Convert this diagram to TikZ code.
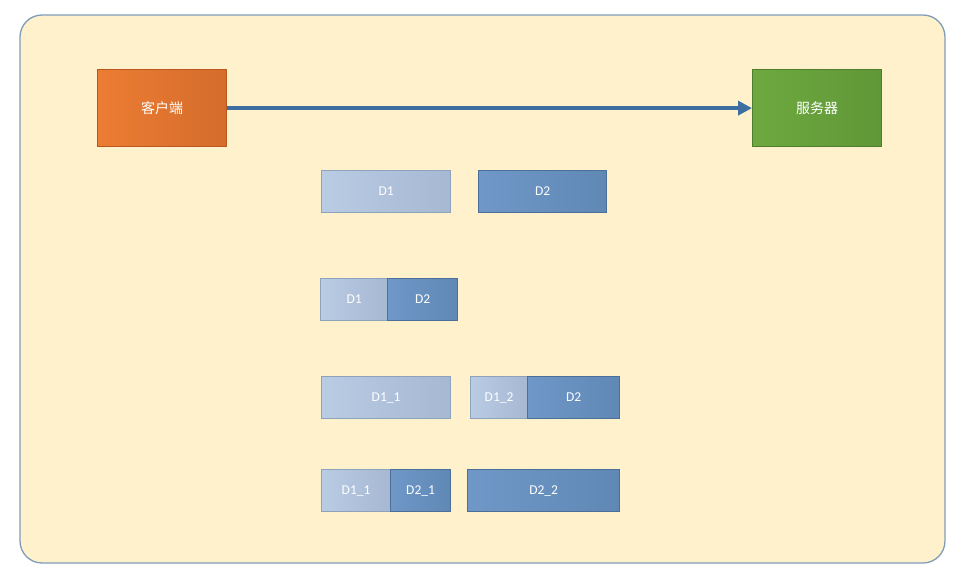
\documentclass[tikz,border=0pt]{standalone}
\usepackage{fontspec}
\setmainfont{Carlito}
\newfontfamily\cjk{Noto Sans CJK SC}
\usetikzlibrary{arrows.meta}
\definecolor{bgfill}{HTML}{FEF1CC}
\definecolor{bgline}{HTML}{7F9DB9}
\definecolor{orgA}{HTML}{EC7D33}
\definecolor{orgB}{HTML}{D56C2C}
\definecolor{orgL}{HTML}{B9581E}
\definecolor{grnA}{HTML}{6DA93F}
\definecolor{grnB}{HTML}{609737}
\definecolor{grnL}{HTML}{4E7E2B}
\definecolor{ltA}{HTML}{BACBE4}
\definecolor{ltB}{HTML}{A6B8D2}
\definecolor{ltL}{HTML}{8EA2BC}
\definecolor{dkA}{HTML}{6F98C8}
\definecolor{dkB}{HTML}{6088B5}
\definecolor{dkL}{HTML}{4B6F98}
\definecolor{arr}{HTML}{3D6EA2}
\tikzset{
  endbox/.style={draw, line width=1.2pt, minimum width=129pt, minimum height=77pt, text=white, font=\cjk\fontsize{14}{16}\selectfont, inner sep=0pt, anchor=north west},
  client/.style={endbox, draw=orgL, left color=orgA, right color=orgB},
  server/.style={endbox, draw=grnL, left color=grnA, right color=grnB},
  pkt/.style={draw, line width=1.2pt, minimum height=42pt, text=white, font=\fontsize{13.5}{16}\selectfont, inner sep=0pt, anchor=north west},
  light/.style={pkt, draw=ltL, left color=ltA, right color=ltB},
  dark/.style={pkt, draw=dkL, left color=dkA, right color=dkB},
}
\begin{document}
\begin{tikzpicture}[x=1pt, y=-1pt]
\useasboundingbox (0,0) rectangle (969,582);
\draw[bgline, fill=bgfill, line width=1.3pt, rounded corners=22pt] (20,15) rectangle (945,563);
\node[client] (cl) at (97,69) {客户端};
\node[server] (sv) at (752,69) {服务器};
\draw[arr, line width=3.6pt, -{Triangle[length=14pt, width=14pt]}] (cl.east) -- (sv.west);
% row 1
\node[light, minimum width=129pt] (r1a) at (321,170) {D1};
\node[dark, minimum width=128pt] (r1b) at (478,170) {D2};
% row 2
\node[light, minimum width=67pt] (r2a) at (320,278) {D1};
\node[dark, minimum width=70pt] (r2b) at (387,278) {D2};
% row 3
\node[light, minimum width=129pt] (r3a) at (321,376) {D1\_1};
\node[light, minimum width=57pt] (r3b) at (470,376) {D1\_2};
\node[dark, minimum width=92pt] (r3c) at (527,376) {D2};
% row 4
\node[light, minimum width=69pt] (r4a) at (321,469) {D1\_1};
\node[dark, minimum width=60pt] (r4b) at (390,469) {D2\_1};
\node[dark, minimum width=152pt] (r4c) at (467,469) {D2\_2};
\end{tikzpicture}
\end{document}
